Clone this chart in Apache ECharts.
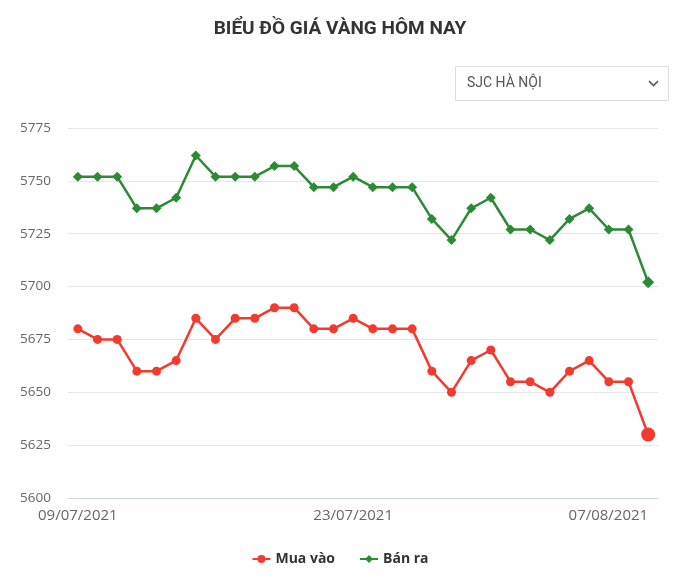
<!DOCTYPE html>
<html>
<head>
<meta charset="utf-8">
<style>
html,body{margin:0;padding:0;background:#fff;}
#chart{width:680px;height:585px;}
</style>
<script src="https://cdn.jsdelivr.net/npm/echarts@6/dist/echarts.min.js"></script>
</head>
<body>
<div id="chart"></div>
<script>
const titleText = 'BIỂU ĐỒ GIÁ VÀNG HÔM NAY';
const dropdownText = 'SJC HÀ NỘI';
const dates = ['09/07/2021','10/07/2021','11/07/2021','12/07/2021','13/07/2021','14/07/2021','15/07/2021','16/07/2021','17/07/2021','18/07/2021','19/07/2021','20/07/2021','21/07/2021','22/07/2021','23/07/2021','24/07/2021','25/07/2021','26/07/2021','27/07/2021','28/07/2021','29/07/2021','30/07/2021','31/07/2021','01/08/2021','02/08/2021','03/08/2021','04/08/2021','05/08/2021','06/08/2021','07/08/2021'];
const labelledIdx = [0, 14, 29];
const muaVao = [5680,5675,5675,5660,5660,5665,5685,5675,5685,5685,5690,5690,5680,5680,5685,5680,5680,5680,5660,5650,5665,5670,5655,5655,5650,5660,5665,5655,5655,5630];
const banRa  = [5752,5752,5752,5737,5737,5742,5762,5752,5752,5752,5757,5757,5747,5747,5752,5747,5747,5747,5732,5722,5737,5742,5727,5727,5722,5732,5737,5727,5727,5702];
const yMin = 5600, yMax = 5775, yStep = 25;

const RED = '#f23a2e', GREEN = '#2c8a34';
const chart = echarts.init(document.getElementById('chart'));
const lastBig = (arr, normal, big) => arr.map((v, i) => i === arr.length - 1 ? {value: v, symbolSize: big} : {value: v, symbolSize: normal});

chart.setOption({
  animation: false,
  title: {
    text: titleText, left: 'center', top: 15,
    textStyle: {fontFamily: 'Roboto', fontWeight: 'bold', fontSize: 19, color: '#333'}
  },
  graphic: [
    {type: 'rect', shape: {x: 455.5, y: 66.5, width: 213, height: 34}, style: {fill: '#fff', stroke: '#dcdcdc', lineWidth: 1}},
    {type: 'text', x: 467, y: 83, style: {text: dropdownText, font: '14px Roboto', fill: '#555', verticalAlign: 'middle'}},
    {type: 'polyline', shape: {points: [[649, 81], [653.5, 85.5], [658, 81]]}, style: {stroke: '#555', lineWidth: 1.6, fill: null}}
  ],
  legend: {
    bottom: 14, left: 'center', itemGap: 24, itemWidth: 18, itemHeight: 10,
    textStyle: {fontFamily: 'Open Sans', fontWeight: 'bold', fontSize: 14, color: '#333'},
    data: ['Mua vào', 'Bán ra']
  },
  grid: {left: 68, right: 22, top: 128, bottom: 87},
  xAxis: {
    type: 'category', data: dates, boundaryGap: true,
    axisLine: {lineStyle: {color: '#ccd6eb'}},
    axisTick: {show: false},
    axisLabel: {
      interval: (i) => labelledIdx.includes(i),
      margin: 10, color: '#666', fontSize: 15, fontFamily: 'Open Sans',
      alignMaxLabel: 'right'
    },
    splitLine: {show: false}
  },
  yAxis: {
    type: 'value', min: yMin, max: yMax, interval: yStep,
    axisLine: {show: false}, axisTick: {show: false},
    axisLabel: {margin: 17, color: '#666', fontSize: 13.5, fontFamily: 'Open Sans', formatter: (v) => String(v)},
    splitLine: {lineStyle: {color: '#e6e6e6'}}
  },
  series: [
    {
      name: 'Mua vào', type: 'line', data: lastBig(muaVao, 9, 14),
      symbol: 'circle', color: RED, lineStyle: {width: 2.5, color: RED}, itemStyle: {color: RED}
    },
    {
      name: 'Bán ra', type: 'line', data: lastBig(banRa, 10, 12),
      symbol: 'diamond', color: GREEN, lineStyle: {width: 2.5, color: GREEN}, itemStyle: {color: GREEN}
    }
  ]
});
</script>
</body>
</html>
